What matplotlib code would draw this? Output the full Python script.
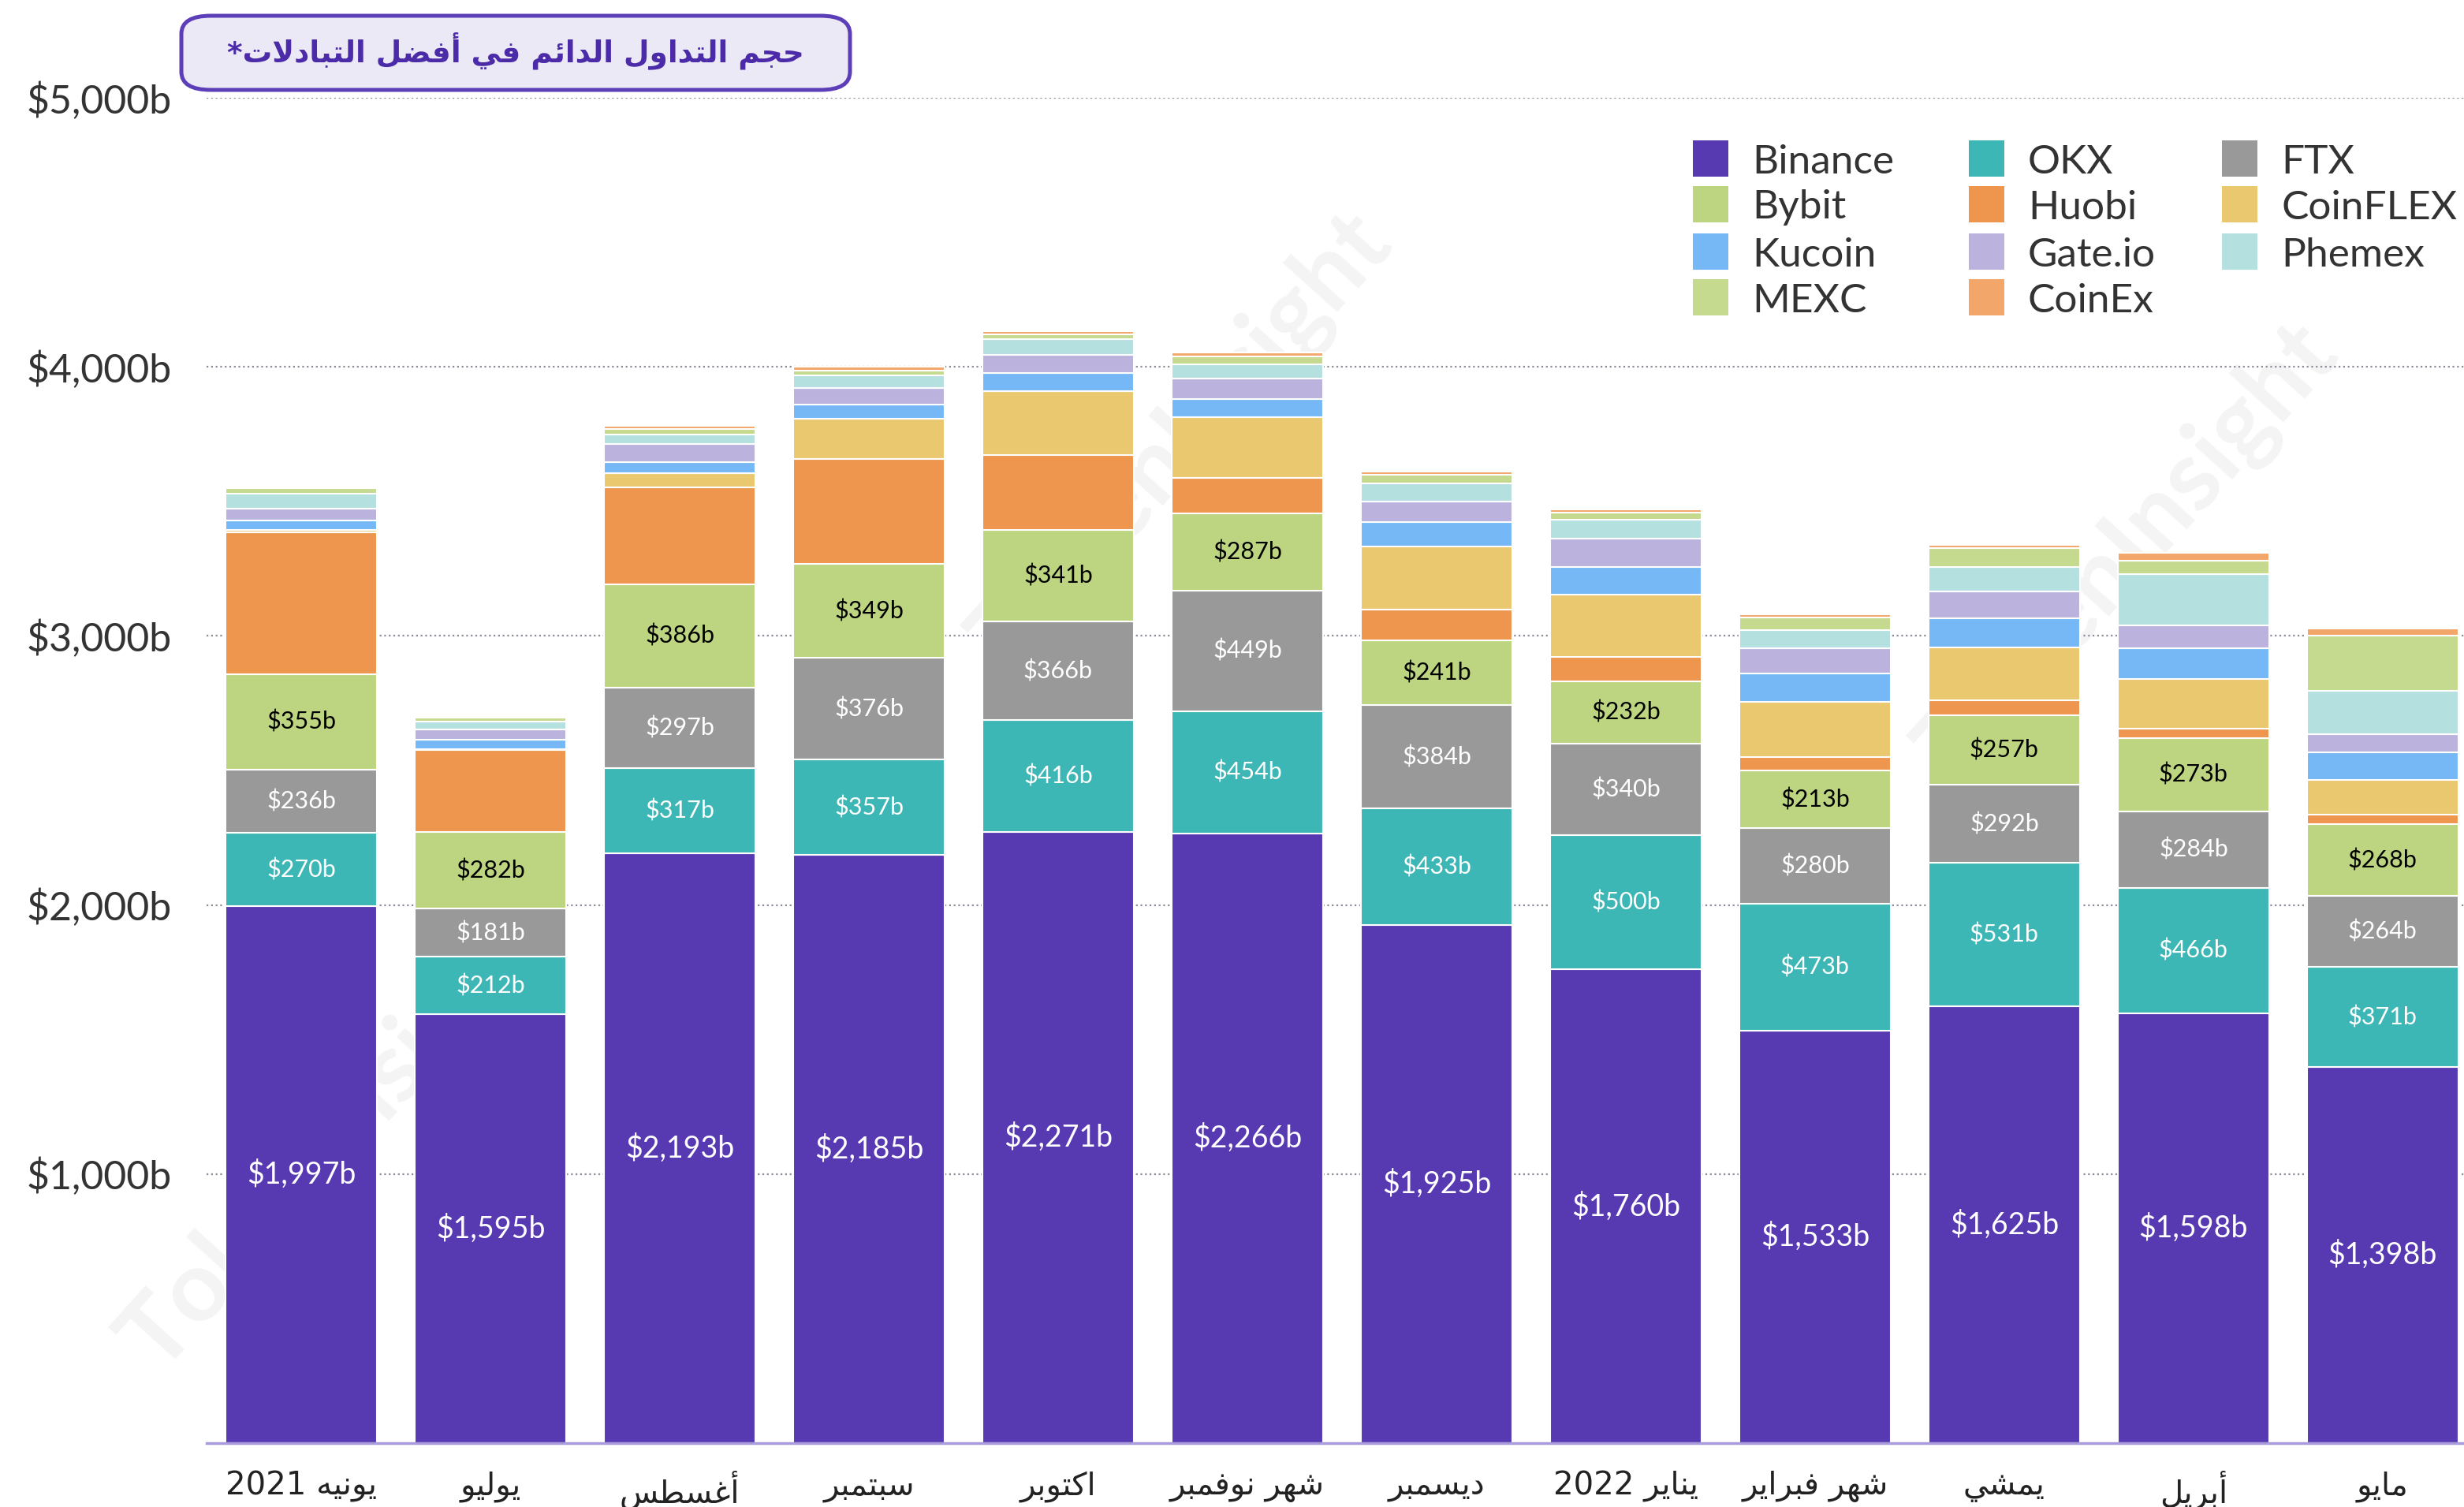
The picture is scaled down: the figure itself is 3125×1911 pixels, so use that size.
import re
import numpy as np
import matplotlib
matplotlib.use("Agg")
import matplotlib.pyplot as plt
from matplotlib.patches import FancyBboxPatch, Rectangle

W, H = 3125, 1911

title = "حجم التداول الدائم في أفضل التبادلات*"
months = ["يونيه 2021", "يوليو", "أغسطس", "سبتمبر", "اكتوبر", "شهر نوفمبر",
          "ديسمبر", "يناير 2022", "شهر فبراير", "يمشي", "أبريل", "مايو"]

# monthly volume, $b, bottom of the stack first
binance = [1997, 1595, 2193, 2185, 2271, 2266, 1925, 1760, 1533, 1625, 1598, 1398]
okx = [270, 212, 317, 357, 416, 454, 433, 500, 473, 531, 466, 371]
ftx = [236, 181, 297, 376, 366, 449, 384, 340, 280, 292, 284, 264]
bybit = [355, 282, 386, 349, 341, 287, 241, 232, 213, 257, 273, 268]
huobi = [527, 305, 358, 390, 278, 132, 114, 91, 52, 57, 34, 35]
coinflex = [8, 5, 53, 151, 239, 225, 235, 230, 205, 195, 185, 128]
kucoin = [36, 34, 42, 53, 67, 67, 91, 104, 105, 108, 114, 104]
gateio = [44, 38, 68, 59, 68, 78, 76, 105, 92, 100, 86, 67]
phemex = [57, 30, 36, 47, 56, 50, 67, 70, 70, 92, 190, 160]
mexc = [20, 15, 20, 20, 18, 32, 34, 27, 45, 70, 50, 205]
coinex = [0, 5, 12, 13, 12, 14, 12, 12, 12, 10, 28, 28]

series = [
    ("Binance", binance, "#573AB2"),
    ("OKX", okx, "#3DB6B6"),
    ("FTX", ftx, "#999999"),
    ("Bybit", bybit, "#BDD580"),
    ("Huobi", huobi, "#EE964D"),
    ("CoinFLEX", coinflex, "#EAC86F"),
    ("Kucoin", kucoin, "#75B8F5"),
    ("Gate.io", gateio, "#BBB2DD"),
    ("Phemex", phemex, "#B4E0E0"),
    ("MEXC", mexc, "#C5D98F"),
    ("CoinEx", coinex, "#F2A66A"),
]
labelled = {"Binance": ("white", 27), "OKX": ("white", 22),
            "FTX": ("white", 22), "Bybit": ("black", 22)}
legend_order = ["Binance", "Bybit", "Kucoin", "MEXC", "OKX", "Huobi",
                "Gate.io", "CoinEx", "FTX", "CoinFLEX", "Phemex"]

# --- minimal Arabic shaping (presentation forms + RTL order) ---
_table = [(0x0621, 0xFE80, 1), (0x0622, 0xFE81, 2), (0x0623, 0xFE83, 2),
          (0x0624, 0xFE85, 2), (0x0625, 0xFE87, 2), (0x0626, 0xFE89, 4),
          (0x0627, 0xFE8D, 2), (0x0628, 0xFE8F, 4), (0x0629, 0xFE93, 2),
          (0x062A, 0xFE95, 4), (0x062B, 0xFE99, 4), (0x062C, 0xFE9D, 4),
          (0x062D, 0xFEA1, 4), (0x062E, 0xFEA5, 4), (0x062F, 0xFEA9, 2),
          (0x0630, 0xFEAB, 2), (0x0631, 0xFEAD, 2), (0x0632, 0xFEAF, 2),
          (0x0633, 0xFEB1, 4), (0x0634, 0xFEB5, 4), (0x0635, 0xFEB9, 4),
          (0x0636, 0xFEBD, 4), (0x0637, 0xFEC1, 4), (0x0638, 0xFEC5, 4),
          (0x0639, 0xFEC9, 4), (0x063A, 0xFECD, 4), (0x0641, 0xFED1, 4),
          (0x0642, 0xFED5, 4), (0x0643, 0xFED9, 4), (0x0644, 0xFEDD, 4),
          (0x0645, 0xFEE1, 4), (0x0646, 0xFEE5, 4), (0x0647, 0xFEE9, 4),
          (0x0648, 0xFEED, 2), (0x0649, 0xFEEF, 2), (0x064A, 0xFEF1, 4)]
FORMS = {chr(c): (b, n) for c, b, n in _table}
LAM_ALEF = {"\u0622": 0xFEF5, "\u0623": 0xFEF7, "\u0625": 0xFEF9, "\u0627": 0xFEFB}


def shape_ar(text):
    items = []
    i = 0
    while i < len(text):
        c = text[i]
        if c == "\u0644" and i + 1 < len(text) and text[i + 1] in LAM_ALEF:
            items.append(("LA", text[i + 1]))
            i += 2
        else:
            items.append(("C", c))
            i += 1

    def joins_next(it):
        return it[0] == "C" and it[1] in FORMS and FORMS[it[1]][1] == 4

    def joins_prev(it):
        return it[0] == "LA" or (it[1] in FORMS and FORMS[it[1]][1] >= 2)

    out = []
    for k, it in enumerate(items):
        prv = items[k - 1] if k > 0 else None
        nxt = items[k + 1] if k + 1 < len(items) else None
        cp = prv is not None and joins_next(prv) and joins_prev(it)
        cn = nxt is not None and joins_next(it) and joins_prev(nxt)
        if it[0] == "LA":
            out.append(chr(LAM_ALEF[it[1]] + (1 if cp else 0)))
        elif it[1] in FORMS:
            base, n = FORMS[it[1]]
            if n == 4:
                off = 3 if (cp and cn) else 1 if cp else 2 if cn else 0
            elif n == 2:
                off = 1 if cp else 0
            else:
                off = 0
            out.append(chr(base + off))
        else:
            out.append(it[1])
    vis = "".join(out)[::-1]
    return re.sub(r"[0-9A-Za-z]+", lambda m: m.group(0)[::-1], vis)


fig = plt.figure(figsize=(W / 100, H / 100), dpi=100)
fig.patch.set_facecolor("white")

# faint watermark, kept inside the canvas
for (wx, wy, s) in [(1500, 560, 90), (2700, 700, 90), (420, 1450, 90)]:
    fig.text(wx / W, 1 - wy / H, "TokenInsight", fontsize=s, fontweight="bold",
             family="Lato", color="#F4F4F4", rotation=48, ha="center",
             va="center", zorder=-5)

ax = fig.add_axes([262 / W, 1 - 1830 / H, 1 - 262 / W, (1830 - 124) / H])
ax.patch.set_alpha(0)

x = np.arange(len(months))
bottom = np.zeros(len(months))
for name, vals, color in series:
    vals = np.array(vals, dtype=float)
    bars = ax.bar(x, vals, 0.8, bottom=bottom, color=color,
                  edgecolor="white", linewidth=1.5, zorder=3)
    if name in labelled:
        tc, fs = labelled[name]
        ax.bar_label(bars, labels=[f"${v:,.0f}b" for v in vals],
                     label_type="center", color=tc, fontsize=fs,
                     family="Lato", zorder=4)
    bottom += vals

ax.set_xlim(-0.5, 11.43)
ax.set_ylim(0, 5000)
ax.set_yticks([1000, 2000, 3000, 4000, 5000])
ax.set_yticklabels([f"${v:,}b" for v in [1000, 2000, 3000, 4000, 5000]],
                   family="Lato", fontsize=36, color="#333333")
ax.set_xticks(x)
ax.set_xticklabels([shape_ar(m) for m in months], family="DejaVu Sans",
                   fontsize=29, color="#222222")
ax.tick_params(axis="both", length=0)
ax.tick_params(axis="y", pad=32)
ax.tick_params(axis="x", pad=25)
ax.yaxis.grid(True, linestyle=(0, (1, 1.6)), color="#8C8C99", linewidth=1.6,
              zorder=1)
for side in ["top", "right", "left"]:
    ax.spines[side].set_visible(False)
ax.spines["bottom"].set_color("#A99BDB")
ax.spines["bottom"].set_linewidth(2.5)
ax.spines["bottom"].set_zorder(5)

# title box
box = FancyBboxPatch((230 / W, 1 - 114 / H), (1078 - 230) / W, (114 - 20) / H,
                     boxstyle="round,pad=0,rounding_size=0.012",
                     transform=fig.transFigure, facecolor="#ECE9F7",
                     edgecolor="#5B3EB8", linewidth=3.6, zorder=10)
fig.patches.append(box)
fig.text(654 / W, 1 - 64 / H, shape_ar(title), family="DejaVu Sans",
         fontweight="bold", fontsize=27, color="#4B2BA8", ha="center",
         va="center", zorder=11)

# legend, three columns
colors = {n: c for n, _, c in series}
col_x = [2147, 2497, 2818]
row_y = [201, 259, 319, 377]
sq = 45
for k, name in enumerate(legend_order):
    col, row = divmod(k, 4)
    lx, ly = col_x[col], row_y[row]
    fig.patches.append(Rectangle((lx / W, 1 - (ly + sq / 2) / H), sq / W, sq / H,
                                 transform=fig.transFigure,
                                 facecolor=colors[name], edgecolor="none"))
    fig.text((lx + sq + 30) / W, 1 - ly / H, name, family="Lato", fontsize=37,
             color="#333333", ha="left", va="center_baseline")

fig.savefig("out.png", dpi=100)
